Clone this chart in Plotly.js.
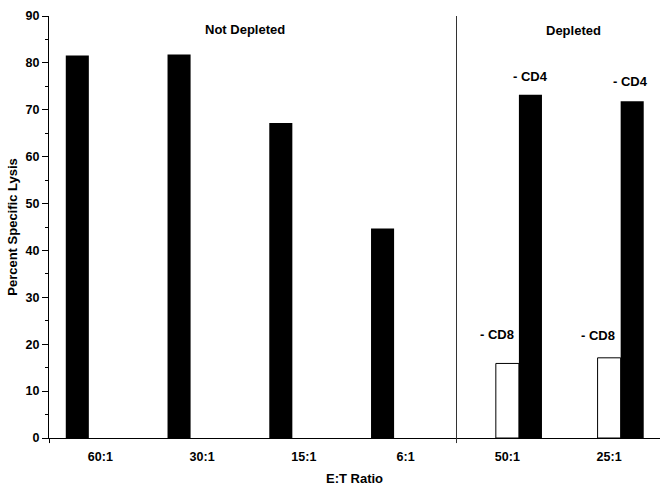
<!DOCTYPE html>
<html>
<head>
<meta charset="utf-8">
<script src="https://cdn.plot.ly/plotly-3.0.1.min.js"></script>
<style>
  html, body { margin: 0; padding: 0; background: #fff; }
  #fig { width: 670px; height: 494px; }
</style>
</head>
<body>
<div id="fig"></div>
<script>
// E:T ratios on the x axis
var ratios = ['60:1', '30:1', '15:1', '6:1', '50:1', '25:1'];

// percent specific lysis
var notDepleted = [81.6, 81.8, 67.2, 44.7, null, null];
var minusCD8   = [null, null, null, null, 15.9, 17.1];
var minusCD4   = [null, null, null, null, 73.2, 71.8];

var yTicks = [0, 10, 20, 30, 40, 50, 60, 70, 80, 90];

var fnt = 'Liberation Sans, Arial, sans-serif';

var trace1 = {
  x: ratios,
  y: notDepleted,
  type: 'bar',
  name: 'Not Depleted',
  marker: {color: '#000', line: {color: '#000', width: 0}},
  hoverinfo: 'none'
};
var trace2 = {
  x: ratios,
  y: minusCD8,
  type: 'bar',
  name: '- CD8',
  marker: {color: '#fff', line: {color: '#000', width: 1}},
  hoverinfo: 'none'
};
var trace3 = {
  x: ratios,
  y: minusCD4,
  type: 'bar',
  name: '- CD4',
  marker: {color: '#000', line: {color: '#000', width: 0}},
  hoverinfo: 'none'
};

function note(txt, x, y) {
  return {
    xref: 'x', yref: 'y', x: x, y: y,
    text: txt, showarrow: false,
    font: {family: fnt, size: 13, color: '#000', weight: 'bold'}
  };
}

var layout = {
  width: 670,
  height: 494,
  margin: {l: 49, r: 10, t: 16, b: 56},
  paper_bgcolor: '#fff',
  plot_bgcolor: '#fff',
  showlegend: false,
  barmode: 'group',
  bargap: 0.32,
  bargroupgap: 0,
  font: {family: fnt, size: 12.5, color: '#000', weight: 'bold'},
  xaxis: {
    type: 'category',
    showline: true,
    linecolor: '#000',
    linewidth: 1,
    showgrid: false,
    zeroline: false,
    ticks: 'outside',
    ticklen: 7,
    tickcolor: 'rgba(0,0,0,0)',
    tickfont: {family: fnt, size: 12.5, color: '#000', weight: 'bold'},
    title: {
      text: 'E:T Ratio',
      standoff: 10,
      font: {family: fnt, size: 13, color: '#000', weight: 'bold'}
    },
    fixedrange: true
  },
  yaxis: {
    range: [0, 90],
    tickvals: yTicks,
    showline: true,
    linecolor: '#000',
    linewidth: 1,
    showgrid: false,
    zeroline: false,
    ticks: 'outside',
    ticklen: 6,
    tickcolor: '#000',
    minor: {dtick: 5, ticks: 'outside', ticklen: 3, tickcolor: '#000', showgrid: false},
    tickfont: {family: fnt, size: 12.5, color: '#000', weight: 'bold'},
    title: {
      text: 'Percent Specific Lysis',
      standoff: 5,
      font: {family: fnt, size: 13, color: '#000', weight: 'bold'}
    },
    fixedrange: true
  },
  shapes: [
    // divider between not depleted and depleted groups
    {type: 'line', xref: 'x', yref: 'paper', x0: 3.5, x1: 3.5, y0: -0.012, y1: 1,
     line: {color: '#333', width: 1}},
    {type: 'line', xref: 'x', yref: 'paper', x0: -0.5, x1: -0.5, y0: -0.012, y1: 0,
     line: {color: '#000', width: 1}}
  ],
  annotations: [
    note('Not Depleted', 1.42, 87.2),
    note('Depleted', 4.65, 86.9),
    note('- CD4', 4.23, 77.1),
    note('- CD4', 5.21, 76.1),
    note('- CD8', 3.9, 22.1),
    note('- CD8', 4.89, 21.9)
  ]
};

Plotly.newPlot('fig', [trace1, trace2, trace3], layout, {displayModeBar: false, staticPlot: true});
</script>
</body>
</html>
